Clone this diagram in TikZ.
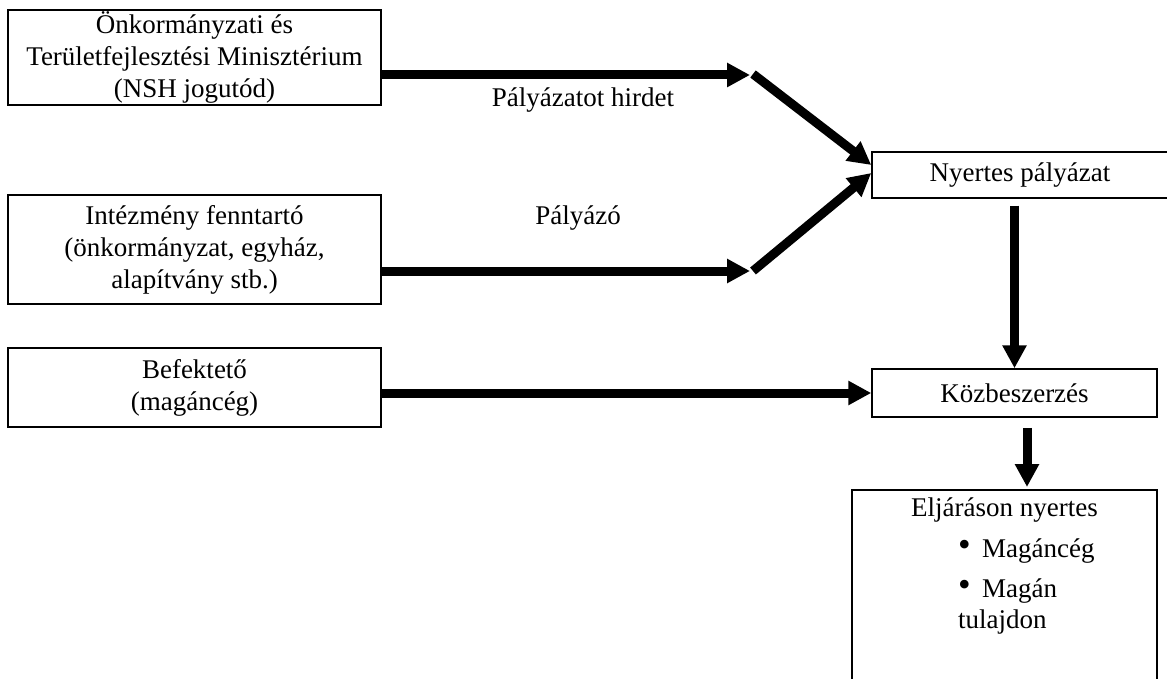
\documentclass[tikz,border=0pt]{standalone}
\usepackage{fontspec}
\setmainfont{Liberation Serif}
\usetikzlibrary{arrows.meta}
\newcommand\diagfont{\fontsize{27}{32}\selectfont}
\newcommand\mybul{\makebox[24pt][l]{\raisebox{1pt}{\fontsize{36}{36}\selectfont•}}}
\begin{document}
\begin{tikzpicture}[x=1pt,y=-1pt,
  every node/.style={font=\diagfont, inner sep=0pt},
  boxnode/.style={draw, line width=1.5pt, align=center},
  bigarrow/.style={line width=9pt, -{Triangle[length=23pt,width=23pt]}},
  lbl/.style={anchor=base}]
\useasboundingbox (0,0) rectangle (1167,679);
\clip (0,0) rectangle (1167,679);
% left boxes
\node[boxnode, minimum width=373pt, minimum height=95pt] (min) at (194.5,57.5)
  {Önkormányzati és\\Területfejlesztési Minisztérium\\(NSH jogutód)};
\node[boxnode, minimum width=373pt, minimum height=109pt] (fenn) at (194.5,249.5)
  {Intézmény fenntartó\\(önkormányzat, egyház,\\alapítvány stb.)};
\node[boxnode, minimum width=373pt, minimum height=79pt] (bef) at (194.5,387.5)
  {Befektető\\(magáncég)};
% right boxes
\node[boxnode, minimum width=296pt, minimum height=46pt] (nyer) at (1020,175)
  {Nyertes pályázat};
\node[boxnode, minimum width=285pt, minimum height=48pt] (kozb) at (1014.5,393)
  {Közbeszerzés};
\node[draw, line width=1.5pt, minimum width=305pt, minimum height=230pt, anchor=north] (elj) at (1004.5,489) {};
\node[anchor=base] (eljt) at (1004.5,516) {Eljáráson nyertes};
\node[anchor=base west] (it1) at (958,557) {\mybul Magáncég};
\node[anchor=base west] (it2) at (958,597) {\mybul Magán};
\node[anchor=base west] (it2b) at (958,628) {tulajdon};
% labels
\node[lbl] (l1) at (583,107) {Pályázatot hirdet};
\node[lbl] (l2) at (578,225) {Pályázó};
% junction coordinates
\coordinate (h1) at (750,75);
\coordinate (s1) at (753,74);
\coordinate (h2) at (750,271);
\coordinate (s2) at (753,271);
% arrows
\draw[bigarrow] (min.east |- h1) -- (h1);
\draw[bigarrow] (s1) -- ([yshift=10pt]nyer.west);
\draw[bigarrow] (fenn.east |- h2) -- (h2);
\draw[bigarrow] (s2) -- ([yshift=2pt]nyer.west);
\draw[bigarrow] (bef.east |- kozb.west) -- (kozb.west);
\draw[bigarrow] ([yshift=-7pt]kozb.north |- nyer.south) -- (kozb.north);
\draw[bigarrow] ([xshift=12.5pt,yshift=-10pt]kozb.south) -- ([xshift=12.5pt,yshift=2pt]kozb.south |- elj.north);
\end{tikzpicture}
\end{document}
